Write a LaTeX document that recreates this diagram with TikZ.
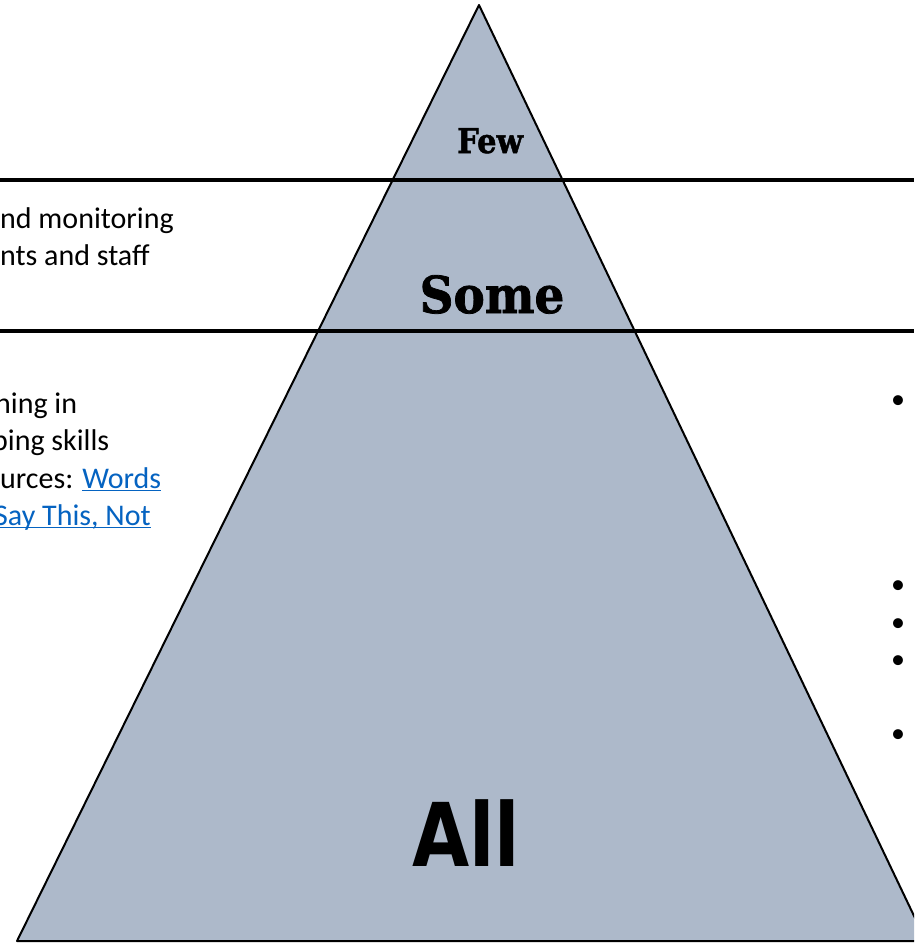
\documentclass[tikz,border=0pt]{standalone}
\usepackage{fontspec}
\setmainfont{Carlito}
\newfontfamily\tierserif{DejaVu Serif}[BoldFeatures={FakeBold=1.5}]
\newfontfamily\tiersans{DejaVu Sans}
\usetikzlibrary{positioning}
\definecolor{pyramidfill}{RGB}{173,185,202}
\definecolor{linkblue}{RGB}{5,99,193}
\newcommand\linktext[1]{{\color{linkblue}\setbox0\hbox{#1}\rlap{\rule[-3pt]{\wd0}{1.5pt}}\box0}}
\tikzset{
  body/.style={anchor=base west,inner sep=0pt,font=\fontsize{30}{36}\selectfont},
  tier/.style={anchor=base,inner sep=0pt},
  dotmark/.style={inner sep=0pt,font=\fontsize{28}{34}\selectfont}
}

\begin{document}
\begin{tikzpicture}[x=1pt,y=-1pt]
\useasboundingbox (0,0) rectangle (914,943);
\clip (0,0) rectangle (914,943);
\fill[white] (0,0) rectangle (914,943);
\draw[fill=pyramidfill,line width=2pt,line join=round] (479,5) -- (17,941) -- (926,941) -- cycle;
\foreach \y in {180,331}
  \draw[line width=4pt] (0,\y) -- (914,\y);
\node[tier] (few) at (490,153) {\tierserif\bfseries\fontsize{34}{34}\selectfont\scalebox{0.9}[1]{Few}};
\node[tier] (some) at (492,313) {\tierserif\bfseries\fontsize{51}{51}\selectfont\scalebox{0.92}[1]{Some}};
\node[tier] (all) at (466,866) {\tiersans\bfseries\fontsize{88}{88}\selectfont\scalebox{0.84}[1]{All}};
\node[body] (mon) at (0,228) {nd monitoring};
\node[body] (staff) at (0,265) {nts and staff};
\node[body] (train) at (-5,413) {ning in};
\node[body] (skill) at (-8,450) {ping skills};
\node[body] (res) at (0,488) {urces: \linktext{Words}};
\node[body] (say) at (-6,525) {\linktext{Say This, Not}};
\foreach \y [count=\i] in {402,587,625,662,736}
  \node[dotmark] (dot\i) at (898,\y) {•};
\end{tikzpicture}
\end{document}
